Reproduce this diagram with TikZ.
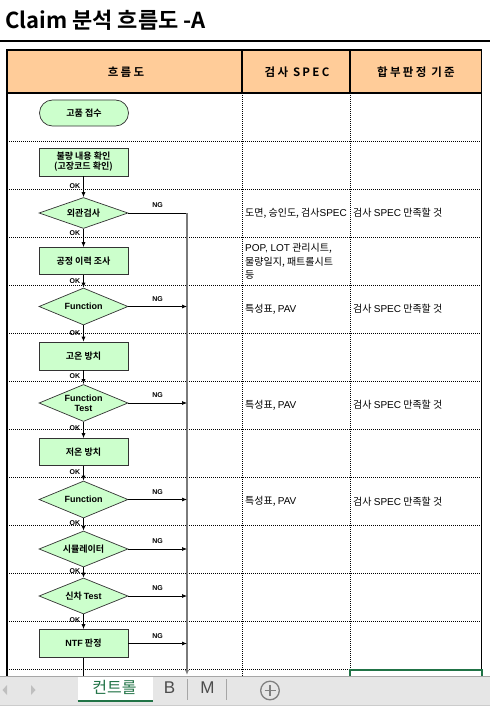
\documentclass[tikz,border=0pt]{standalone}
\usepackage{fontspec}
\setmainfont{Liberation Sans}
\newfontfamily\krfont[BoldFont={Noto Sans CJK KR Bold}]{Noto Sans CJK KR}
\newfontfamily\hdrfont[LetterSpace=20,BoldFont={Noto Sans CJK KR Bold}]{Noto Sans CJK KR}
\newfontfamily\latfont{Liberation Sans}
\usepackage{xcolor}
\usepackage{tikz}
\usetikzlibrary{positioning}
\usetikzlibrary{arrows, arrows.meta, shapes.geometric, calc}

\definecolor{hdrpeach}{HTML}{FFCC99}
\definecolor{boxgreen}{HTML}{CCFFCC}
\definecolor{xlgreen}{HTML}{217346}
\definecolor{tabgray}{HTML}{E6E6E6}
\definecolor{railgray}{HTML}{7A7A7A}
\newcommand{\lat}[1]{{\latfont #1}}

\tikzset{
    tblsolid/.style={line width=1.1pt, black},
    tbldot/.style={line width=0.9pt, black, dash pattern=on 1pt off 1pt},
    procbox/.style={draw=black!80, fill=boxgreen, line width=0.7pt, minimum width=89pt, minimum height=28pt,
        inner sep=0pt, align=center, font=\krfont\bfseries\fontsize{9}{10}\selectfont},
    termbox/.style={procbox, rounded corners=13pt, minimum height=26pt},
    decision/.style={diamond, aspect=2.4, draw=black!80, fill=boxgreen, line width=0.7pt, minimum width=89pt,
        minimum height=37pt, inner sep=0pt, align=center, font=\krfont\bfseries\fontsize{9}{10}\selectfont},
    flow/.style={->, line width=0.7pt, black},
    ngrail/.style={->, line width=2.2pt, railgray},
    oklbl/.style={pos=0.45, anchor=east, xshift=-2pt, inner sep=1pt, font=\latfont\bfseries\fontsize{7}{8}\selectfont},
    nglbl/.style={pos=0.5, above, yshift=4pt, inner sep=1pt, font=\latfont\bfseries\fontsize{7}{8}\selectfont},
    hdrtxt/.style={inner sep=0pt, font=\hdrfont\bfseries\fontsize{11.5}{12}\selectfont},
    coltext/.style={inner sep=0pt, anchor=west, align=left, font=\krfont\fontsize{10}{13.5}\selectfont},
}

\begin{document}
\begin{tikzpicture}[x=1pt, y=-1pt, >={Latex[length=5pt,width=4pt]}]
    \useasboundingbox (0,0) rectangle (490,706);

    \node[anchor=base west, inner sep=0pt, font=\krfont\bfseries\fontsize{22}{22}\selectfont] (title) at (5,29) {Claim 분석 흐름도 -A};
    \draw[line width=1.8pt] (0,40.7) -- (490,40.7);

    \fill[hdrpeach] (7,50) rectangle (481.5,93);
    \draw[tblsolid] (7,50) rectangle (481.5,93);
    \draw[tblsolid] (242,50) -- (242,93);
    \draw[tblsolid] (350,50) -- (350,93);
    \draw[tblsolid] (7,93) -- (7,677);
    \draw[tblsolid] (481.5,93) -- (481.5,677);
    \foreach \y in {141,189,...,669}
        \draw[tbldot] (7,\y) -- (481.5,\y);
    \foreach \x in {242,350}
        \draw[tbldot] (\x,93) -- (\x,677);

    \node[hdrtxt] (hflow) at (126,72) {흐름도};
    \node[hdrtxt] (hspec) at (297,72) {검사 SPEC};
    \node[hdrtxt] (hjudge) at (416,72) {합부판정 기준};

    \node[termbox] (start) at (84,113) {고품 접수};
    \node[procbox] (chk) at (83.5,162) {불량 내용 확인\\(고장코드 확인)};
    \node[decision, aspect=2.9, minimum height=31pt] (visual) at (83.5,213) {외관검사};
    \node[procbox, minimum height=27pt] (hist) at (83.5,261) {공정 이력 조사};
    \node[decision] (func1) at (83.5,306.5) {\lat{Function}};
    \node[procbox] (hot) at (83.5,356) {고온 방치};
    \node[decision] (ftest) at (83.5,403) {\lat{Function}\\\lat{Test}};
    \node[procbox, minimum height=27pt] (cold) at (83.5,452) {저온 방치};
    \node[decision] (func2) at (83.5,499.5) {\lat{Function}};
    \node[decision, minimum height=36pt] (sim) at (83.5,549) {시뮬레이터};
    \node[decision, minimum height=36pt] (car) at (83.5,596) {신차 \lat{Test}};
    \node[procbox] (ntf) at (83.5,643.5) {\lat{NTF} 판정};

    \coordinate (ngturn) at (187,213);
    \coordinate (ngend) at (187,675);
    \coordinate (flowend) at (83.5,680);

    \draw[flow] (chk) -- node[oklbl] {OK} (visual);
    \draw[flow] (visual) -- node[oklbl, pos=0.25] {OK} (hist);
    \draw[flow] (hist) -- node[oklbl] {OK} (func1);
    \draw[flow] (func1) -- node[oklbl] {OK} (hot);
    \draw[flow] (hot) -- node[oklbl] {OK} (ftest);
    \draw[flow] (ftest) -- node[oklbl, pos=0.38] {OK} (cold);
    \draw[flow] (cold) -- node[oklbl] {OK} (func2);
    \draw[flow] (func2) -- node[oklbl, pos=0.4] {OK} (sim);
    \draw[flow] (sim) -- node[oklbl, pos=0.38] {OK} (car);
    \draw[flow] (car) -- node[oklbl, pos=0.4] {OK} (ntf);
    \draw[flow, -] (ntf) -- (flowend);

    \draw[flow, -] (visual.east) -- node[nglbl] {NG} (ngturn);
    \draw[ngrail] (ngturn) -- (ngend);
    \draw[flow] (func1.east) -- node[nglbl] {NG} (func1.east -| ngturn);
    \draw[flow] (ftest.east) -- node[nglbl] {NG} (ftest.east -| ngturn);
    \draw[flow] (func2.east) -- node[nglbl] {NG} (func2.east -| ngturn);
    \draw[flow] (sim.east) -- node[nglbl] {NG} (sim.east -| ngturn);
    \draw[flow] (car.east) -- node[nglbl] {NG} (car.east -| ngturn);
    \draw[flow] (ntf.east) -- node[nglbl] {NG} (ntf.east -| ngturn);

    \begin{scope}
        \clip (243,190) rectangle (349.5,236);
        \node[coltext] (spec1) at (245,213) {도면, 승인도, 검사\lat{SPEC}};
    \end{scope}
    \node[coltext] (judge1) at (353,213) {검사 \lat{SPEC} 만족할 것};
    \node[coltext] (spec2) at (245,261.5) {\lat{POP, LOT} 관리시트,\\물량일지, 패트롤시트\\등};
    \node[coltext] (spec3) at (245,309) {특성표, \lat{PAV}};
    \node[coltext] (judge3) at (353,309) {검사 \lat{SPEC} 만족할 것};
    \node[coltext] (spec5) at (245,405) {특성표, \lat{PAV}};
    \node[coltext] (judge5) at (353,405) {검사 \lat{SPEC} 만족할 것};
    \node[coltext] (spec7) at (245,501.5) {특성표, \lat{PAV}};
    \node[coltext] (judge7) at (353,501.5) {검사 \lat{SPEC} 만족할 것};

    \draw[xlgreen, line width=2pt] (350,677) -- (350,670) -- (481.5,670) -- (481.5,677);

    \fill[tabgray] (0,676.5) rectangle (490,706);
    \draw[black!35, line width=0.8pt] (0,676.5) -- (490,676.5);
    \draw[black!20, line width=0.8pt] (0,705.5) -- (490,705.5);
    \fill[white] (77.5,677) rectangle (152.5,700);
    \draw[xlgreen, line width=2pt] (77.5,700.5) -- (152.5,700.5);
    \node[inner sep=0pt, text=xlgreen, font=\krfont\fontsize{16}{16}\selectfont] (tabctl) at (114.5,687) {컨트롤};
    \node[inner sep=0pt, text=black!70, font=\latfont\fontsize{17}{17}\selectfont] (tabb) at (169.5,688) {B};
    \node[inner sep=0pt, text=black!70, font=\latfont\fontsize{17}{17}\selectfont] (tabm) at (207.5,688) {M};
    \draw[black!35, line width=0.8pt] (187.7,679) -- (187.7,700);
    \draw[black!35, line width=0.8pt] (226.7,679) -- (226.7,700);
    \fill[black!25] (7,685) -- (2.5,690) -- (7,695) -- cycle;
    \fill[black!25] (31,685) -- (35.5,690) -- (31,695) -- cycle;
    \draw[black!50, line width=1.3pt] (270,690.5) circle (9.3);
    \draw[black!50, line width=1.6pt] (264.5,690.5) -- (275.5,690.5);
    \draw[black!50, line width=1.6pt] (270,685) -- (270,696);
\end{tikzpicture}
\end{document}
